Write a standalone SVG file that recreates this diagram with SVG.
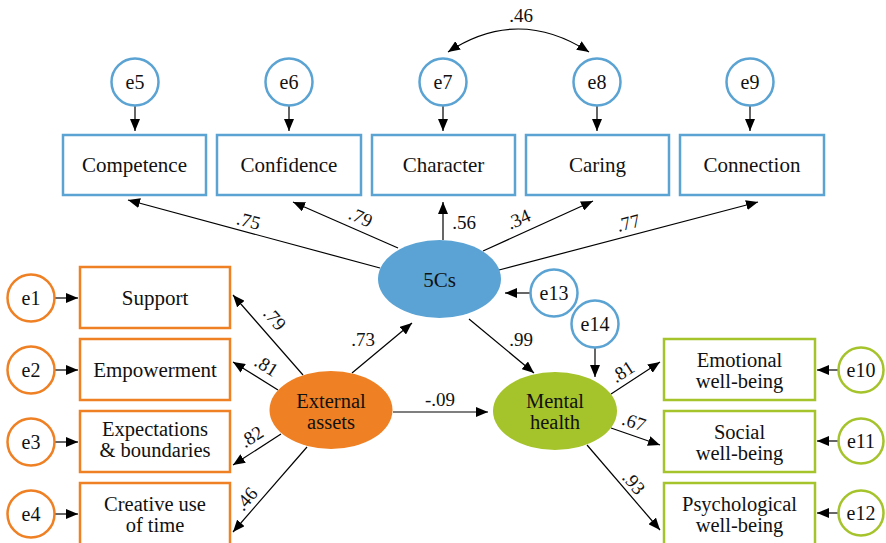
<svg xmlns="http://www.w3.org/2000/svg" width="886" height="543" viewBox="0 0 886 543">
<defs>
<marker id="ah" viewBox="0 0 12 10" refX="12" refY="5" markerWidth="12" markerHeight="10" markerUnits="userSpaceOnUse" orient="auto-start-reverse">
<path d="M0,0 L12,5 L0,10 Z" fill="#000"/>
</marker>
<style>
text{fill:#111;text-anchor:middle;font-family:Liberation Serif,Tinos,Times New Roman,Times,serif}
.t{font-size:21px}
.t2{font-size:20.5px}
.e{font-size:20px}
.n{font-size:19px}
.bb{fill:#fff;stroke:#5ba3d3;stroke-width:2.5}
.bo{fill:#fff;stroke:#ef8023;stroke-width:2.5}
.bg{fill:#fff;stroke:#a5c32a;stroke-width:2.5}
.c line,.c path{stroke:#000;stroke-width:1.2;fill:none;marker-end:url(#ah)}
</style>
</defs>

<g class="c" id="connectors">
<line x1="135" y1="106" x2="135" y2="131"/>
<line x1="289" y1="106" x2="289" y2="131"/>
<line x1="443" y1="106" x2="443" y2="131"/>
<line x1="597" y1="106" x2="597" y2="131"/>
<line x1="750" y1="106" x2="750" y2="131"/>
<path d="M448,52 Q518,6 589,52" style="marker-start:url(#ah)"/>
<line x1="380" y1="268" x2="128" y2="200"/>
<line x1="398" y1="248" x2="293" y2="202"/>
<line x1="443" y1="240" x2="443" y2="202"/>
<line x1="483" y1="251" x2="593" y2="201"/>
<line x1="499" y1="270" x2="758" y2="202"/>
<line x1="54" y1="298" x2="78" y2="298"/>
<line x1="54" y1="370" x2="78" y2="370"/>
<line x1="54" y1="442" x2="78" y2="442"/>
<line x1="54" y1="514" x2="78" y2="514"/>
<line x1="303" y1="375" x2="233" y2="295"/>
<line x1="278" y1="390" x2="233" y2="362"/>
<line x1="281" y1="434" x2="233" y2="465"/>
<line x1="307" y1="447" x2="233" y2="532"/>
<line x1="352" y1="373" x2="412" y2="323"/>
<line x1="393" y1="412" x2="488" y2="412"/>
<line x1="469" y1="319" x2="534" y2="373"/>
<line x1="530" y1="293" x2="505" y2="293"/>
<line x1="595" y1="348" x2="595" y2="377"/>
<line x1="611" y1="394" x2="660" y2="362"/>
<line x1="611" y1="428" x2="660" y2="445"/>
<line x1="587" y1="445" x2="660" y2="530"/>
<line x1="839" y1="370" x2="817" y2="370"/>
<line x1="839" y1="441" x2="817" y2="441"/>
<line x1="839" y1="513" x2="817" y2="513"/>
</g>

<g id="coef">
<text class="n" x="521" y="22">.46</text>
<text class="n" transform="translate(247,227) rotate(15)">.75</text>
<text class="n" transform="translate(358,223) rotate(24)">.79</text>
<text class="n" x="464" y="229">.56</text>
<text class="n" transform="translate(521,225) rotate(-24)">.34</text>
<text class="n" transform="translate(630,229) rotate(-15)">.77</text>
<text class="n" transform="translate(270,323) rotate(49)">.79</text>
<text class="n" transform="translate(263,371) rotate(32)">.81</text>
<text class="n" transform="translate(255,442) rotate(-33)">.82</text>
<text class="n" transform="translate(251,503) rotate(-49)">.46</text>
<text class="n" x="363" y="346">.73</text>
<text class="n" x="440" y="406">-.09</text>
<text class="n" x="521" y="346">.99</text>
<text class="n" transform="translate(626,377) rotate(-33)">.81</text>
<text class="n" transform="translate(632,428) rotate(18)">.67</text>
<text class="n" transform="translate(629,487) rotate(50)">.93</text>
</g>

<g id="e5"><circle class="bb" cx="135" cy="82" r="23.5"/><text class="e" x="135" y="88.5">e5</text></g>
<g id="e6"><circle class="bb" cx="289" cy="82" r="23.5"/><text class="e" x="289" y="88.5">e6</text></g>
<g id="e7"><circle class="bb" cx="443" cy="82" r="23.5"/><text class="e" x="443" y="88.5">e7</text></g>
<g id="e8"><circle class="bb" cx="597" cy="82" r="23.5"/><text class="e" x="597" y="88.5">e8</text></g>
<g id="e9"><circle class="bb" cx="750" cy="82" r="23.5"/><text class="e" x="750" y="88.5">e9</text></g>

<g id="competence"><rect class="bb" x="63" y="135" width="143" height="60"/><text class="t" x="134.5" y="172">Competence</text></g>
<g id="confidence"><rect class="bb" x="217" y="135" width="144" height="60"/><text class="t" x="289" y="172">Confidence</text></g>
<g id="character"><rect class="bb" x="372" y="135" width="143" height="60"/><text class="t" x="443.5" y="172">Character</text></g>
<g id="caring"><rect class="bb" x="526" y="135" width="143" height="60"/><text class="t" x="597.5" y="172">Caring</text></g>
<g id="connection"><rect class="bb" x="680" y="135" width="144" height="60"/><text class="t" x="752" y="172">Connection</text></g>

<g id="fivecs"><ellipse cx="439.5" cy="279" rx="61.5" ry="39" fill="#5ba3d4"/><text class="t" x="439.5" y="287">5Cs</text></g>
<g id="e13"><circle class="bb" cx="554" cy="293" r="23.5"/><text class="e" x="554" y="299.5">e13</text></g>
<g id="e14"><circle class="bb" cx="595" cy="324" r="23.5"/><text class="e" x="595" y="330.5">e14</text></g>

<g id="e1"><circle class="bo" cx="31" cy="298" r="23.5"/><text class="e" x="31" y="304.5">e1</text></g>
<g id="e2"><circle class="bo" cx="31" cy="370" r="23.5"/><text class="e" x="31" y="376.5">e2</text></g>
<g id="e3"><circle class="bo" cx="31" cy="442" r="23.5"/><text class="e" x="31" y="448.5">e3</text></g>
<g id="e4"><circle class="bo" cx="31" cy="514" r="23.5"/><text class="e" x="31" y="520.5">e4</text></g>

<g id="support"><rect class="bo" x="80" y="267" width="150" height="61"/><text class="t" x="155" y="305">Support</text></g>
<g id="empowerment"><rect class="bo" x="80" y="339" width="150" height="61"/><text class="t" x="155" y="377">Empowerment</text></g>
<g id="expectations"><rect class="bo" x="80" y="411" width="150" height="61"/><text class="t2" x="155" y="436">Expectations</text><text class="t2" x="155" y="457">&amp; boundaries</text></g>
<g id="creative"><rect class="bo" x="80" y="483" width="150" height="62"/><text class="t2" x="155" y="511">Creative use</text><text class="t2" x="155" y="532">of time</text></g>

<g id="external"><ellipse cx="331" cy="410" rx="61.5" ry="39" fill="#ef8023"/><text class="t2" x="331" y="408">External</text><text class="t2" x="331" y="429">assets</text></g>

<g id="mental"><ellipse cx="555" cy="411" rx="62" ry="39" fill="#a5c32a"/><text class="t2" x="555" y="408">Mental</text><text class="t2" x="555" y="429">health</text></g>

<g id="emotional"><rect class="bg" x="664" y="339" width="151" height="61"/><text class="t2" x="739.5" y="367">Emotional</text><text class="t2" x="739.5" y="388">well-being</text></g>
<g id="social"><rect class="bg" x="664" y="411" width="151" height="61"/><text class="t2" x="739.5" y="439">Social</text><text class="t2" x="739.5" y="460">well-being</text></g>
<g id="psychological"><rect class="bg" x="664" y="483" width="151" height="62"/><text class="t2" x="739.5" y="511">Psychological</text><text class="t2" x="739.5" y="532">well-being</text></g>

<g id="e10"><circle class="bg" cx="861" cy="370" r="22.5"/><text class="e" x="861" y="376.5">e10</text></g>
<g id="e11"><circle class="bg" cx="861" cy="441" r="22.5"/><text class="e" x="861" y="447.5">e11</text></g>
<g id="e12"><circle class="bg" cx="861" cy="513" r="22.5"/><text class="e" x="861" y="519.5">e12</text></g>
</svg>
